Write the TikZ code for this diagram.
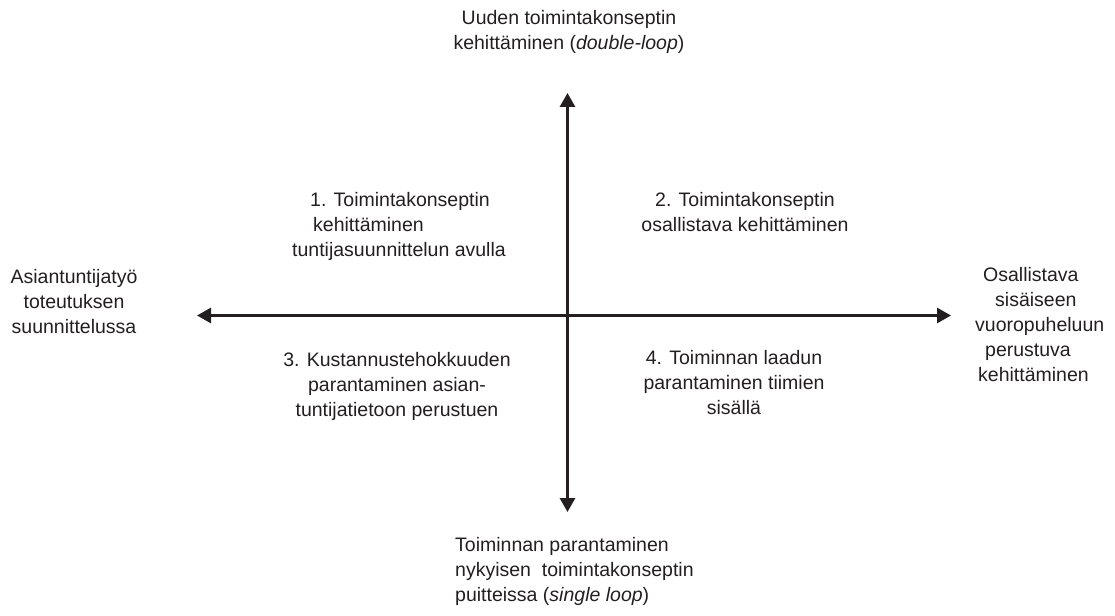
\documentclass[tikz,border=0pt]{standalone}
\usepackage{fontspec}
\setmainfont{Liberation Sans}
\usetikzlibrary{arrows.meta}
\definecolor{ink}{HTML}{231F20}

\begin{document}
\begin{tikzpicture}[x=1pt,y=-1pt,
  axis/.style={line width=3pt, color=ink,
    {Triangle[length=14pt,width=15pt]}-{Triangle[length=14pt,width=15pt]}},
  label/.style={inner sep=0pt, font=\fontsize{19.5pt}{25pt}\selectfont, text=ink}]
  \useasboundingbox (0,0) rectangle (1115,615);

  % axis end points
  \coordinate (top) at (567.5,93);
  \coordinate (bottom) at (567.5,512);
  \coordinate (left) at (197,315.5);
  \coordinate (right) at (951,315.5);

  \draw[axis] (left) -- (right);
  \draw[axis] (top) -- (bottom);

  % pole labels
  \node[label, anchor=north, align=center] (ptop) at (569,10)
    {Uuden toimintakonseptin\\kehittäminen (\textit{double-loop})};
  \node[label, anchor=north west, align=left] (pbottom) at (455,537)
    {Toiminnan parantaminen\\nykyisen\ \ toimintakonseptin\\puitteissa (\textit{single loop})};
  \node[label, anchor=north, align=center] (pleft) at (74,269)
    {Asiantuntijatyö\\toteutuksen\\suunnittelussa};
  \node[label, anchor=north west, align=left] (pright) at (975,267)
    {\hspace*{8pt}Osallistava\\\hspace*{20pt}sisäiseen\\vuoropuheluun\\\hspace*{10pt}perustuva\\\hspace*{3pt}kehittäminen};

  % quadrant labels
  \node[label, anchor=north west, align=left] (q1) at (292,192)
    {\hspace*{18pt}1. Toimintakonseptin\\\hspace*{21pt}kehittäminen\\tuntijasuunnittelun avulla};
  \node[label, anchor=north, align=center] (q2) at (745,192)
    {2. Toimintakonseptin\\osallistava kehittäminen};
  \node[label, anchor=north, align=center] (q3) at (397,352)
    {3. Kustannustehokkuuden\\parantaminen asian-\\tuntijatietoon perustuen};
  \node[label, anchor=north, align=center] (q4) at (734,350)
    {4. Toiminnan laadun\\parantaminen tiimien\\sisällä};
\end{tikzpicture}
\end{document}
